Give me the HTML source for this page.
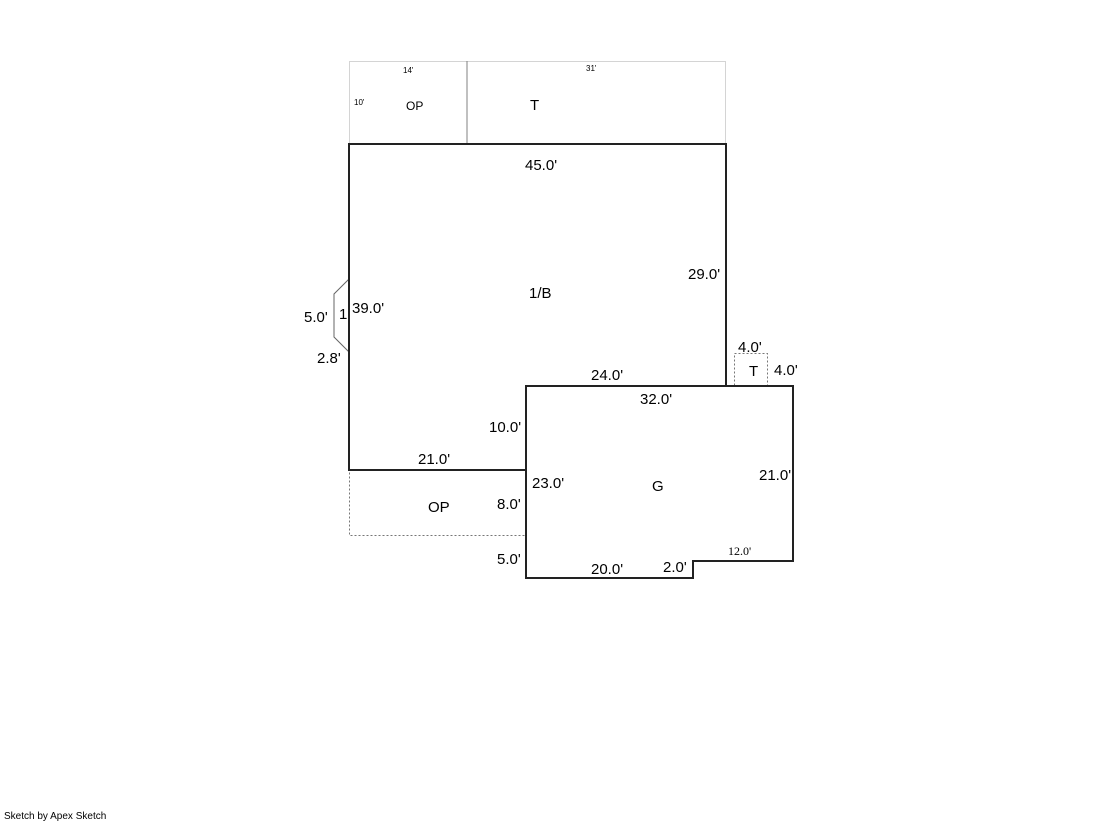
<!DOCTYPE html>
<html><head><style>body{margin:0;background:#fff}</style></head><body>
<svg width="1119" height="821" xmlns="http://www.w3.org/2000/svg" style="display:block;font-family:'Liberation Sans',sans-serif">
<rect x="349.5" y="61.5" width="376" height="82" fill="none" stroke="#aaa" stroke-dasharray="1,1"/>
<line x1="467" y1="61" x2="467" y2="144" stroke="#aaa" stroke-width="1.5"/>
<rect x="349.5" y="470.5" width="177" height="65" fill="none" stroke="#777" stroke-dasharray="2,2"/>
<rect x="734.5" y="353.5" width="33" height="33" fill="none" stroke="#777" stroke-dasharray="2,2"/>
<polyline points="349,279 334,294 334,337 349,352" fill="none" stroke="#666" stroke-width="1"/>
<polygon points="349,144 726,144 726,386 526,386 526,470 349,470" fill="none" stroke="#222" stroke-width="2"/>
<polygon points="526,386 793,386 793,561 693,561 693,578 526,578" fill="none" stroke="#222" stroke-width="2"/>
<g font-size="8" fill="#000">
<text x="403" y="73">14'</text><text x="586" y="71">31'</text><text x="354" y="105">10'</text>
</g>
<g font-size="12" fill="#000">
<text x="406" y="110">OP</text>
<text x="530" y="110" font-size="15">T</text>
</g>
<g font-size="15" fill="#000">
<text x="525" y="170">45.0'</text>
<text x="688" y="279">29.0'</text>
<text x="529" y="298">1/B</text>
<text x="352" y="313">39.0'</text>
<text x="304" y="322">5.0'</text>
<text x="339" y="319">1</text>
<text x="317" y="363">2.8'</text>
<text x="738" y="352">4.0'</text>
<text x="749" y="376">T</text>
<text x="774" y="375">4.0'</text>
<text x="591" y="380">24.0'</text>
<text x="640" y="404">32.0'</text>
<text x="489" y="432">10.0'</text>
<text x="418" y="464">21.0'</text>
<text x="532" y="488">23.0'</text>
<text x="652" y="491">G</text>
<text x="759" y="480">21.0'</text>
<text x="428" y="512">OP</text>
<text x="497" y="509">8.0'</text>
<text x="497" y="564">5.0'</text>
<text x="591" y="574">20.0'</text>
<text x="663" y="572">2.0'</text>
</g>
<text x="728" y="555" font-size="12" font-family="'Liberation Serif',serif">12.0'</text>
<text x="4" y="819" font-size="10">Sketch by Apex Sketch</text>
</svg>
</body></html>
